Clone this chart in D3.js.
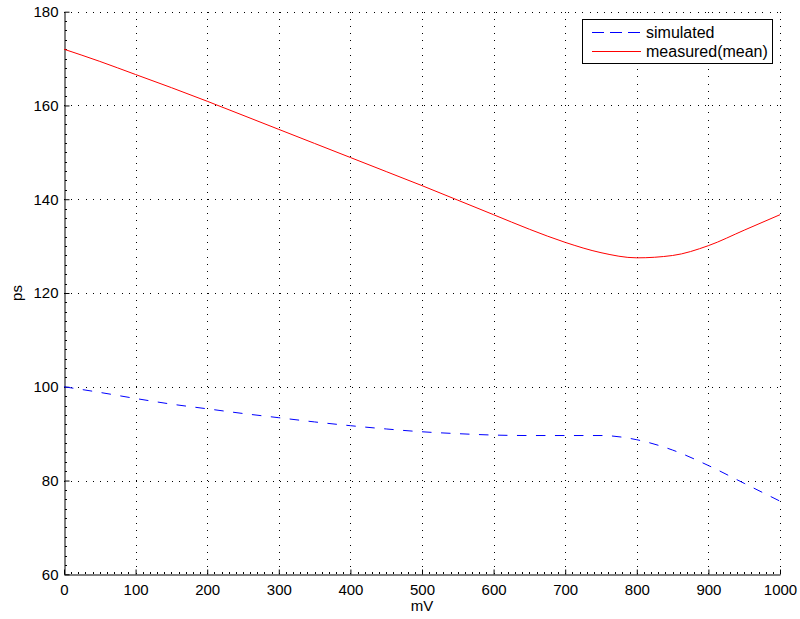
<!DOCTYPE html>
<html>
<head>
<meta charset="utf-8">
<script src="https://cdn.jsdelivr.net/npm/d3@7"></script>
<style>
  html, body { margin: 0; padding: 0; background: #fff; }
  svg { display: block; font-family: "Liberation Sans", Arial, Helvetica, sans-serif; }
</style>
</head>
<body>
<svg id="chart" width="800" height="619"></svg>
<script>
// Supply voltage (mV) sample points
const voltage = [0, 50, 100, 150, 200, 250, 300, 350, 400, 450, 500,
                 550, 600, 650, 700, 750, 800, 850, 900, 950, 1000];
// Delay (ps), simulated
const simulated = [100.0, 98.8, 97.5, 96.3, 95.3, 94.3, 93.4, 92.5, 91.7, 91.0, 90.4,
                   90.0, 89.7, 89.6, 89.6, 89.6, 88.7, 86.5, 83.2, 79.4, 75.6];
// Delay (ps), measured mean
const measured = [172.0, 169.4, 166.6, 163.8, 160.9, 157.9, 154.9, 151.9, 148.9, 145.9, 142.9,
                  139.8, 136.7, 133.6, 130.8, 128.6, 127.5, 128.0, 130.1, 133.4, 136.7];

const xTicks = [0, 100, 200, 300, 400, 500, 600, 700, 800, 900, 1000];
const yTicks = [60, 80, 100, 120, 140, 160, 180];
const seriesNames = ["simulated", "measured(mean)"];

const svg = d3.select("#chart");
const plotL = 64, plotR = 780, plotT = 11.7, plotB = 574.3;

const x = d3.scaleLinear().domain([0, 1000]).range([plotL, plotR]);
const y = d3.scaleLinear().domain([60, 180]).range([plotB, plotT]);

// dotted grid
const grid = svg.append("g").attr("stroke", "#000").attr("stroke-width", 1)
  .attr("stroke-dasharray", "1,6.2").attr("shape-rendering", "crispEdges");
xTicks.slice(1).forEach(t => {
  grid.append("line").attr("x1", Math.round(x(t)) + 0.5).attr("x2", Math.round(x(t)) + 0.5)
    .attr("y1", plotB).attr("y2", plotT);
});
yTicks.slice(1).forEach(t => {
  grid.append("line").attr("y1", Math.round(y(t)) + 0.5).attr("y2", Math.round(y(t)) + 0.5)
    .attr("x1", plotL).attr("x2", plotR);
});

// axes with inward ticks
const fontSize = "15px";
const xAxis = svg.append("g").attr("transform", `translate(0,${Math.round(plotB) + 0.5})`)
  .call(d3.axisBottom(x).tickValues(xTicks).tickFormat(d3.format("d"))
    .tickSizeInner(-5).tickSizeOuter(0).tickPadding(10));
const yAxis = svg.append("g").attr("transform", `translate(${plotL + 0.5},0)`)
  .call(d3.axisLeft(y).tickValues(yTicks).tickFormat(d3.format("d"))
    .tickSizeInner(-5).tickSizeOuter(0).tickPadding(6));
[xAxis, yAxis].forEach(g => {
  g.select(".domain").attr("stroke", "#000");
  g.selectAll(".tick line").attr("stroke", "#000");
  g.selectAll("text").attr("font-size", fontSize).attr("fill", "#000")
    .attr("font-family", "Liberation Sans, Arial, sans-serif");
});

// minor ticks
const minor = svg.append("g").attr("stroke", "#000").attr("stroke-width", 1).attr("shape-rendering", "crispEdges");
d3.range(0, 1001, 10).filter(v => v % 100 !== 0).forEach(v => {
  minor.append("line").attr("x1", Math.round(x(v)) + 0.5).attr("x2", Math.round(x(v)) + 0.5)
    .attr("y1", Math.round(plotB)).attr("y2", Math.round(plotB) - 2);
});
d3.range(60, 181, 2).filter(v => v % 20 !== 0).forEach(v => {
  minor.append("line").attr("y1", Math.round(y(v)) + 0.5).attr("y2", Math.round(y(v)) + 0.5)
    .attr("x1", plotL + 1).attr("x2", plotL + 3);
});

// axis titles
svg.append("text").attr("x", (plotL + plotR) / 2).attr("y", 611).attr("text-anchor", "middle")
  .attr("font-size", fontSize).text("mV");
svg.append("text").attr("transform", `translate(22,${(plotT + plotB) / 2}) rotate(-90)`)
  .attr("text-anchor", "middle").attr("font-size", fontSize).text("ps");

// series
const line = d3.line().x((d, i) => x(voltage[i])).y(d => y(d)).curve(d3.curveMonotoneX);
svg.append("path").datum(simulated).attr("d", line).attr("fill", "none")
  .attr("stroke", "#0000ff").attr("stroke-width", 1).attr("stroke-dasharray", "9.5,9.5");
svg.append("path").datum(measured).attr("d", line).attr("fill", "none")
  .attr("stroke", "#ff0000").attr("stroke-width", 1);

// legend
const lg = svg.append("g");
lg.append("rect").attr("x", 582.5).attr("y", 19.5).attr("width", 190).attr("height", 44)
  .attr("fill", "#fff").attr("stroke", "#000").attr("stroke-width", 1);
lg.append("line").attr("x1", 592).attr("x2", 640).attr("y1", 32.5).attr("y2", 32.5)
  .attr("stroke", "#0000ff").attr("stroke-dasharray", "12,6");
lg.append("line").attr("x1", 592).attr("x2", 641).attr("y1", 51.5).attr("y2", 51.5)
  .attr("stroke", "#ff0000");
lg.selectAll("text.lab").data(seriesNames).enter().append("text")
  .attr("x", 646).attr("y", (d, i) => 38 + i * 19).attr("font-size", "16px").text(d => d);
</script>
</body>
</html>
